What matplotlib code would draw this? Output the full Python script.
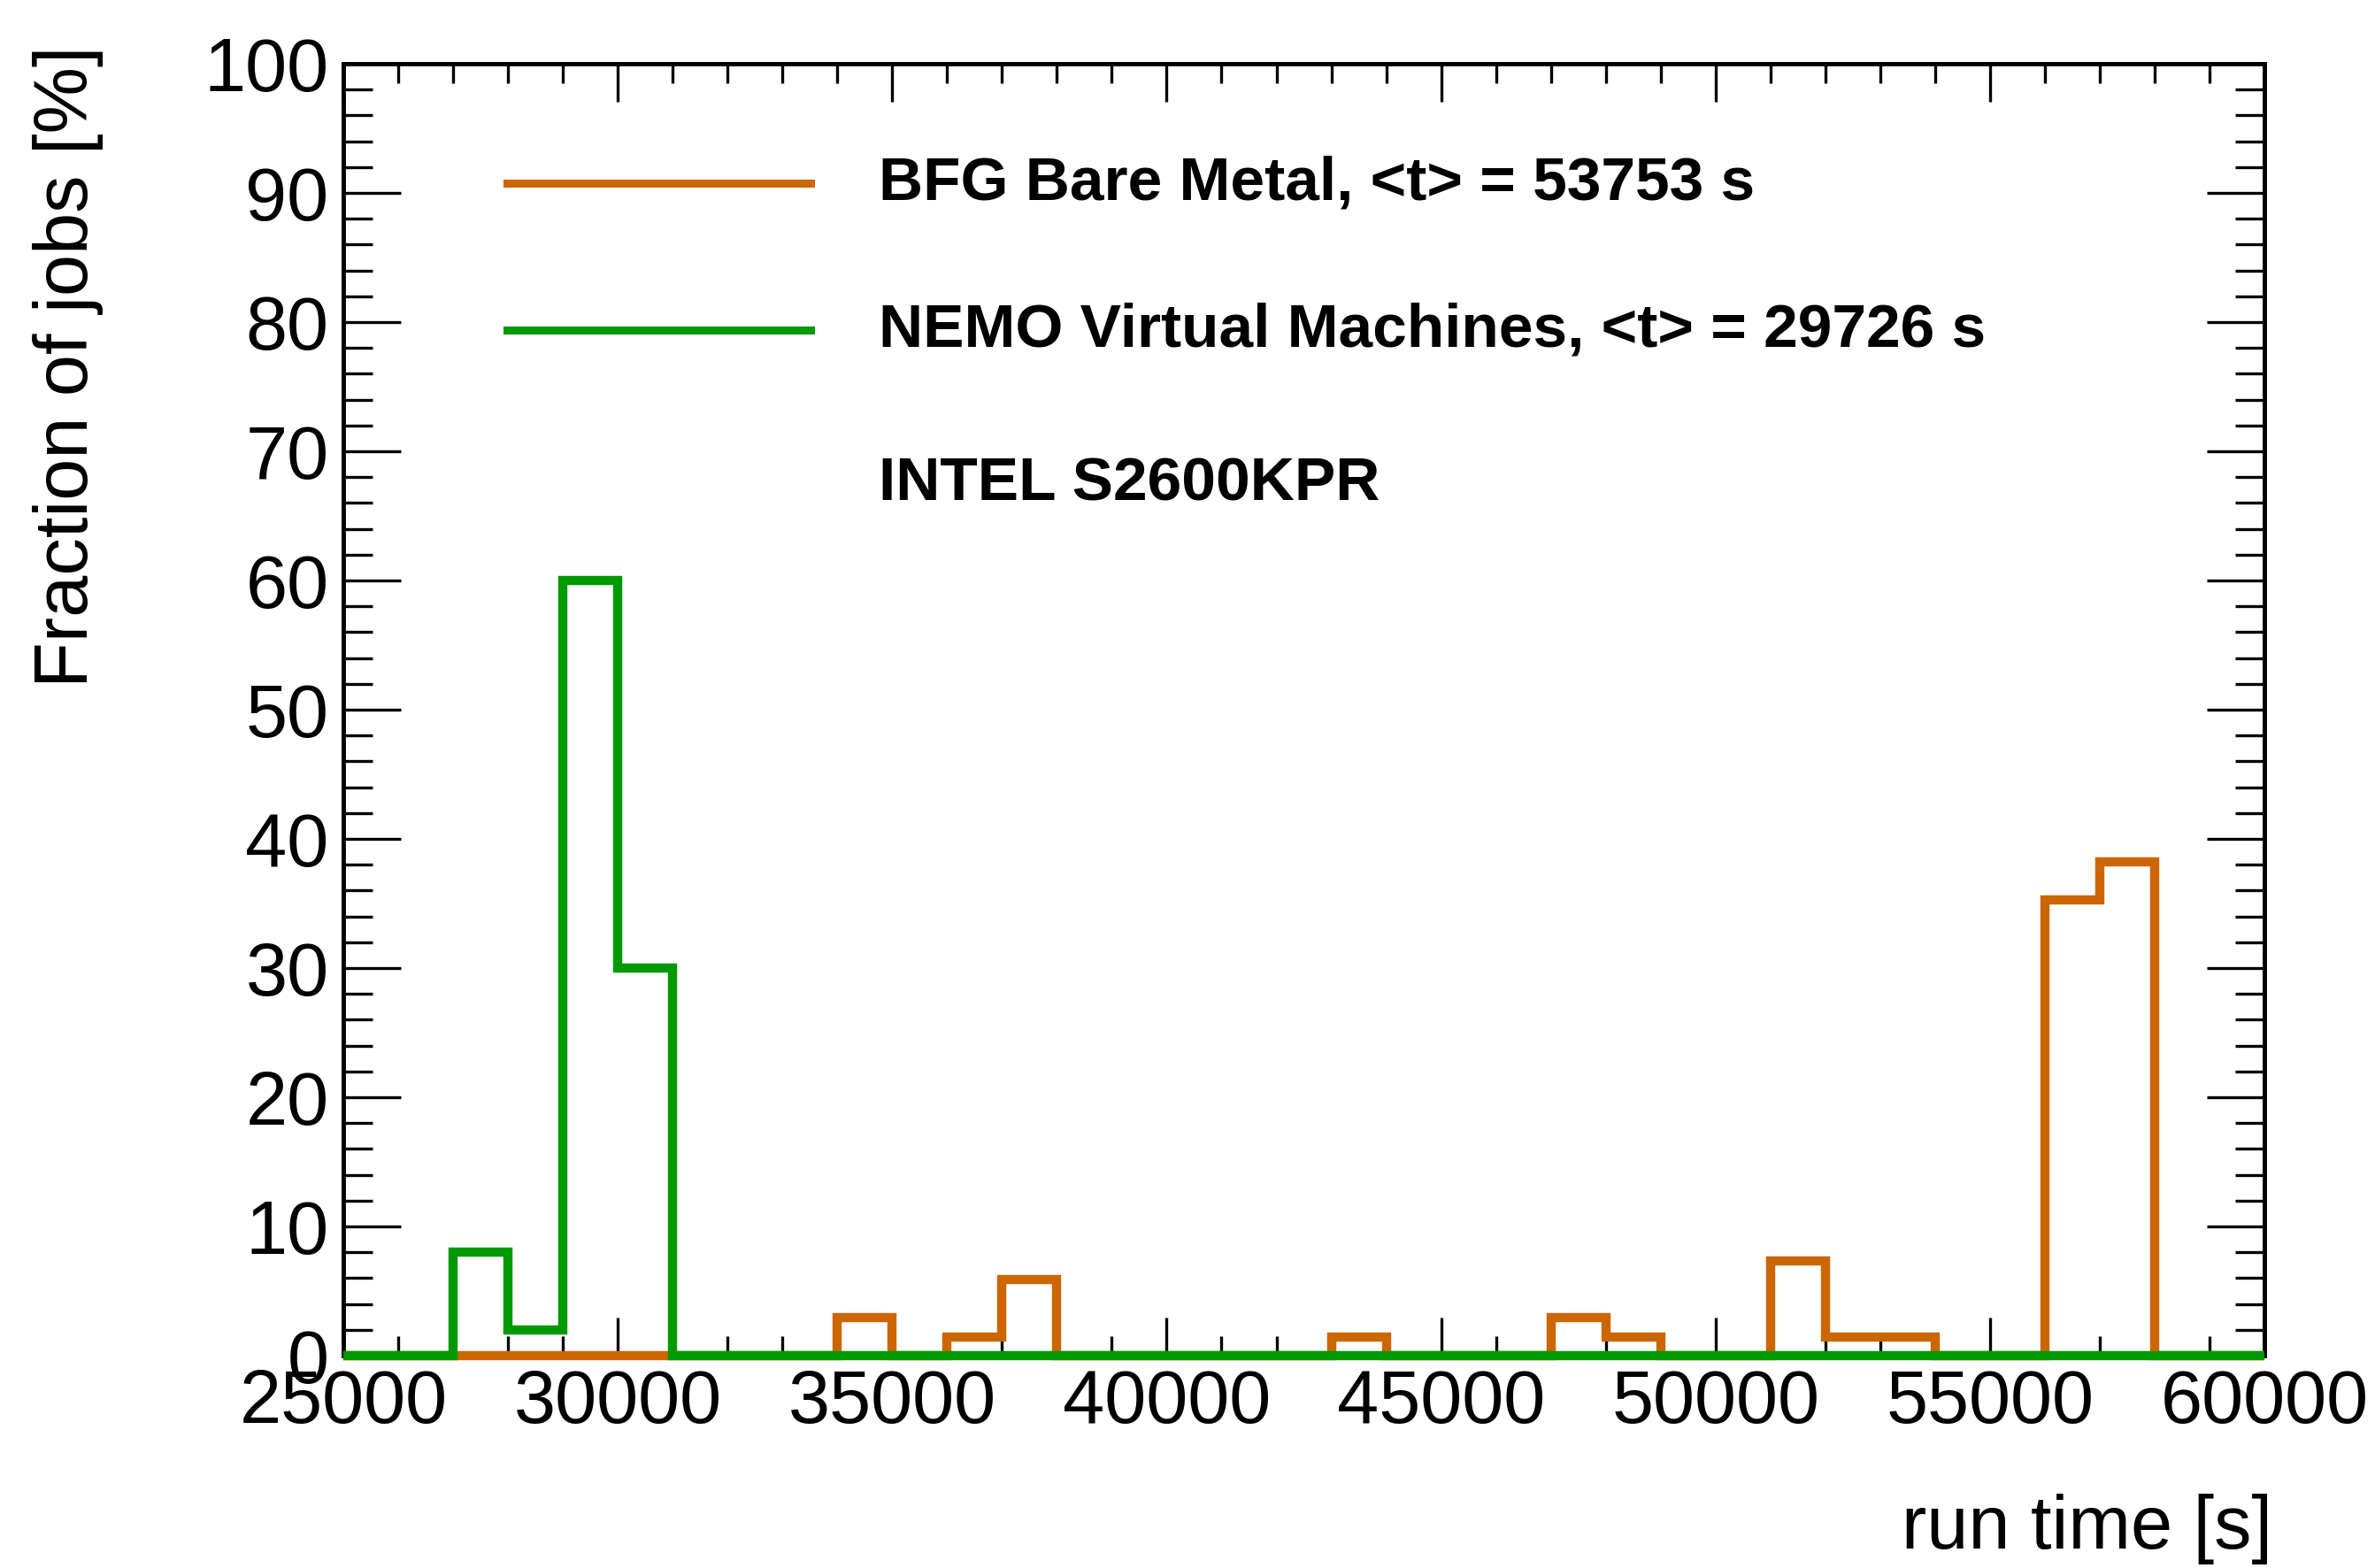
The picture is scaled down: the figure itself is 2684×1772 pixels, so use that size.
import matplotlib
matplotlib.use("Agg")
import matplotlib.pyplot as plt
from matplotlib.ticker import MultipleLocator
import numpy as np

plt.rcParams['font.family'] = ['Liberation Sans', 'DejaVu Sans']

# bin edges: 1000 s bins from 25000 to 60000
edges = np.arange(25000, 60001, 1000)

# BFG Bare Metal, fraction of jobs [%] per bin (68 jobs)
bfg_bins = [34000, 36000, 37000, 43000, 47000, 48000, 51000, 52000, 53000, 56000, 57000]
bfg_frac = [2.94, 1.47, 5.88, 1.47, 2.94, 1.47, 7.35, 1.47, 1.47, 35.29, 38.24]

# NEMO Virtual Machines, fraction of jobs [%] per bin
nemo_bins = [27000, 28000, 29000, 30000]
nemo_frac = [8.0, 2.0, 60.0, 30.0]

bfg_label = "BFG Bare Metal, <t> = 53753 s"
nemo_label = "NEMO Virtual Machines, <t> = 29726 s"
note = "INTEL S2600KPR"

orange = "#cc6600"
green = "#009900"


def fill(bins, frac):
    vals = np.zeros(len(edges) - 1)
    for b, f in zip(bins, frac):
        vals[np.searchsorted(edges, b)] = f
    return vals


fig = plt.figure(figsize=(26.84, 17.72), dpi=100)
ax = fig.add_axes([0.1446, 0.1354, 0.8088, 0.8240])

ax.stairs(fill(bfg_bins, bfg_frac), edges, color=orange, lw=7.5, baseline=0, clip_on=False, zorder=3)
ax.stairs(fill(nemo_bins, nemo_frac), edges, color=green, lw=7.5, baseline=0, clip_on=False, zorder=4)

ax.set_xlim(25000, 60000)
ax.set_ylim(0, 100)

ax.xaxis.set_major_locator(MultipleLocator(5000))
ax.xaxis.set_minor_locator(MultipleLocator(1000))
ax.yaxis.set_major_locator(MultipleLocator(10))
ax.yaxis.set_minor_locator(MultipleLocator(2))

ax.tick_params(axis='both', which='both', direction='in', top=True, right=True, width=2.4, labelsize=61)
ax.tick_params(axis='x', which='major', length=31, pad=10)
ax.tick_params(axis='x', which='minor', length=16)
ax.tick_params(axis='y', which='major', length=47, pad=12)
ax.tick_params(axis='y', which='minor', length=24)
for s in ax.spines.values():
    s.set_linewidth(3.5)

# legend
ax.plot([0.0852, 0.2432], [0.9075, 0.9075], transform=ax.transAxes, color=orange, lw=6.5)
ax.plot([0.0852, 0.2432], [0.7938, 0.7938], transform=ax.transAxes, color=green, lw=6.5)
ax.text(0.2787, 0.9075, bfg_label, transform=ax.transAxes, fontsize=50, fontweight='bold', va='center')
ax.text(0.2787, 0.7938, nemo_label, transform=ax.transAxes, fontsize=50, fontweight='bold', va='center')
ax.text(0.2787, 0.674, note, transform=ax.transAxes, fontsize=50, fontweight='bold', va='center')

fig.text(77 / 2684, 1 - 52 / 1772, "Fraction of jobs [%]", rotation=90, fontsize=61, ha='center', va='top')
fig.text(2568 / 2684, 1 - 1728 / 1772, "run time [s]", fontsize=61, ha='right', va='center')

fig.savefig("out.png", dpi=100)
